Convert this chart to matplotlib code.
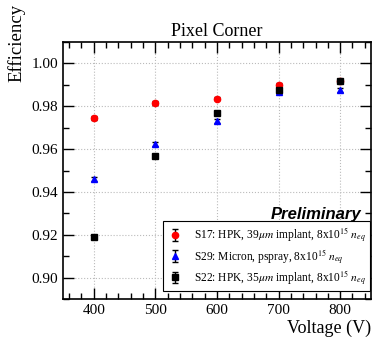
import matplotlib
matplotlib.use('Agg')
import matplotlib.pyplot as plt
from matplotlib.ticker import MultipleLocator

plt.rcParams['font.family'] = 'Liberation Serif'
plt.rcParams['mathtext.fontset'] = 'stix'

# Data
voltage = [400, 500, 600, 700, 800]
eff_s17 = [0.9745, 0.9815, 0.9836, 0.9900, 0.9920]
err_s17 = [0.0009, 0.0009, 0.0009, 0.0009, 0.0009]
eff_s29 = [0.9462, 0.9623, 0.9732, 0.9866, 0.9877]
err_s29 = [0.0009, 0.0009, 0.0009, 0.0009, 0.0009]
eff_s22 = [0.9190, 0.9570, 0.9770, 0.9877, 0.9917]
err_s22 = [0.0009, 0.0009, 0.0009, 0.0009, 0.0009]

labels = [
    r'S17: HPK, 39$\mu m$ implant, 8x10$^{15}$ $n_{eq}$',
    r'S29: Micron, pspray, 8x10$^{15}$ $n_{eq}$',
    r'S22: HPK, 35$\mu m$ implant, 8x10$^{15}$ $n_{eq}$',
]

fig = plt.figure(figsize=(3.77, 3.39), dpi=100)
ax = fig.add_axes([0.167, 0.118, 0.817, 0.758])

series = [
    (eff_s17, err_s17, 'o', 'red', 4.5),
    (eff_s29, err_s29, '^', 'blue', 4.5),
    (eff_s22, err_s22, 's', 'black', 5),
]
for (y, e, m, c, ms), lab in zip(series, labels):
    ax.errorbar(voltage, y, yerr=e, fmt=m, color=c, ecolor='black',
                elinewidth=1, capsize=2, capthick=1, markersize=ms, label=lab)

ax.set_xlim(350, 850)
ax.set_ylim(0.89, 1.01)
ax.xaxis.set_major_locator(MultipleLocator(100))
ax.xaxis.set_minor_locator(MultipleLocator(20))
ax.yaxis.set_major_locator(MultipleLocator(0.02))
ax.yaxis.set_minor_locator(MultipleLocator(0.01))
ax.tick_params(which='both', direction='in', top=True, right=True, labelsize=11)
ax.tick_params(which='major', length=8, width=1)
ax.tick_params(which='minor', length=4, width=1)
for s in ax.spines.values():
    s.set_linewidth(1.2)
ax.grid(True, which='major', linestyle=':', color='#bbbbbb', linewidth=0.8)
ax.set_axisbelow(True)

ax.set_title('Pixel Corner', fontsize=13, pad=4)
ax.set_xlabel('Voltage (V)', fontsize=13, loc='right', labelpad=2)
fig.text(0.045, 1 - 4 / 339, 'Efficiency', rotation=90, ha='center', va='top',
         fontsize=13.5)

ax.text(0.97, 0.33, 'Preliminary', transform=ax.transAxes, ha='right', va='center',
        fontsize=12, fontweight='bold', fontstyle='italic', family='Liberation Sans')

leg = ax.legend(loc='lower right', bbox_to_anchor=(0.997, 0.031), fontsize=8.3,
                frameon=True, fancybox=False, edgecolor='black', framealpha=1,
                borderaxespad=0, handlelength=1.4, handletextpad=0.9,
                borderpad=0.35, labelspacing=0.2)
leg.get_frame().set_linewidth(0.8)

fig.savefig('out.png', dpi=100)
